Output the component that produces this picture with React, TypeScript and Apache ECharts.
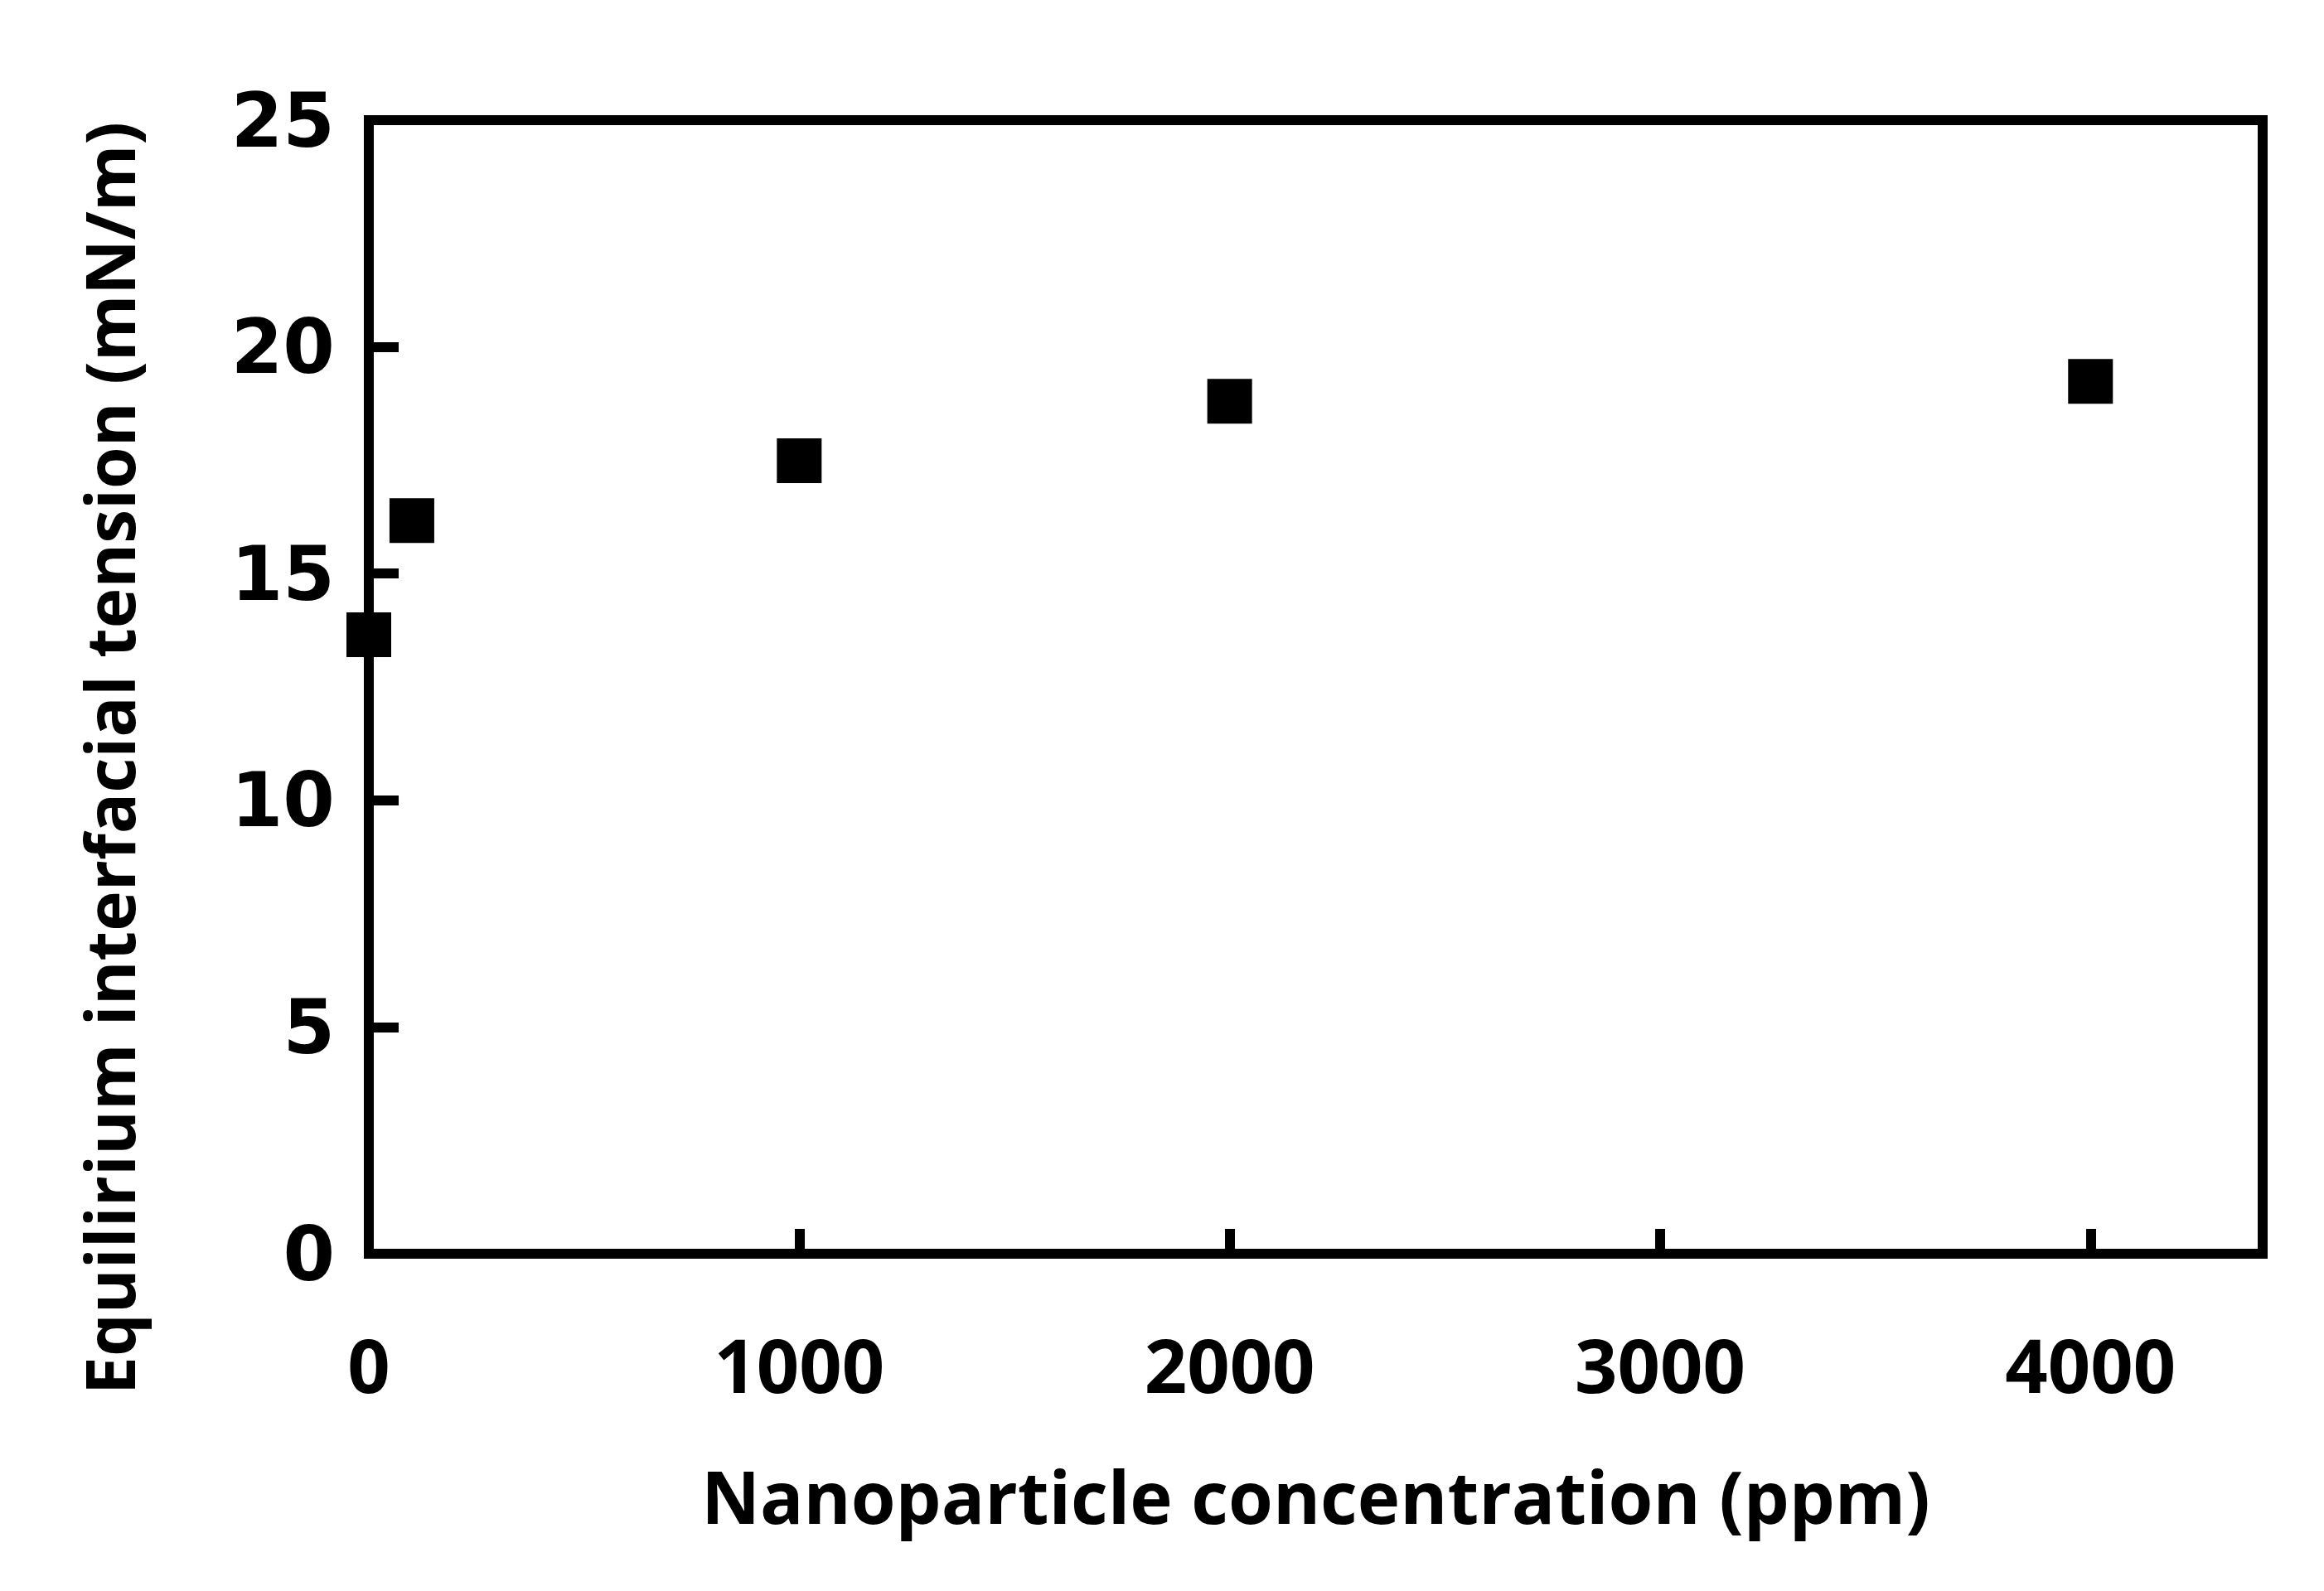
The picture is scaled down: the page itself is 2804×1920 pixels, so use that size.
import React, { useEffect, useRef } from "react";
import * as echarts from "echarts";

const concentrations = [0, 100, 1000, 2000, 4000];
const tension = [13.65, 16.17, 17.49, 18.8, 19.24];
const xAxisTitle = "Nanoparticle concentration (ppm)";
const yAxisTitle = "Equilirium interfacial tension (mN/m)";
const xRange = [0, 4400];
const yRange = [0, 25];

export default function App() {
  const ref = useRef<HTMLDivElement>(null);
  useEffect(() => {
    if (!ref.current) return;
    const chart = echarts.init(ref.current, undefined, { renderer: "svg" });
    const points = concentrations.map((c, i) => [c, tension[i]]);
    chart.setOption({
      animation: false,
      backgroundColor: "#fff",
      grid: {
        left: 445,
        right: 74,
        top: 145,
        bottom: 407,
        show: true,
        borderColor: "#000",
        borderWidth: 12,
        backgroundColor: "transparent",
      },
      xAxis: {
        type: "value",
        min: xRange[0],
        max: xRange[1],
        interval: 1000,
        name: xAxisTitle,
        nameLocation: "middle",
        nameGap: 248,
        nameTextStyle: {
          fontFamily: "Open Sans",
          fontWeight: "bold",
          fontSize: 87,
          color: "#000",
        },
        splitLine: { show: false },
        axisLine: { show: true, lineStyle: { color: "#000", width: 12 } },
        axisTick: { show: true, inside: true, length: 30, lineStyle: { color: "#000", width: 12 } },
        axisLabel: {
          showMaxLabel: false,
          margin: 88,
          formatter: (v: number) => String(v),
          fontFamily: "Open Sans",
          fontWeight: "bold",
          fontSize: 90,
          color: "#000",
        },
      },
      yAxis: {
        type: "value",
        min: yRange[0],
        max: yRange[1],
        interval: 5,
        splitLine: { show: false },
        axisLine: { show: true, lineStyle: { color: "#000", width: 12 } },
        axisTick: { show: true, inside: true, length: 36, lineStyle: { color: "#000", width: 12 } },
        axisLabel: {
          margin: 41,
          fontFamily: "DejaVu Sans",
          fontWeight: "bold",
          fontSize: 90,
          color: "#000",
        },
      },
      graphic: [
        {
          type: "text",
          x: 131,
          y: 915,
          rotation: Math.PI / 2,
          style: {
            text: yAxisTitle,
            fontFamily: "Open Sans",
            fontWeight: "bold",
            fontSize: 82,
            fill: "#000",
            align: "center",
            verticalAlign: "middle",
          },
        },
      ],
      series: [
        {
          type: "scatter",
          data: points,
          symbol: "rect",
          symbolSize: 54,
          itemStyle: { color: "#000", opacity: 1 },
        },
      ],
    });
    return () => chart.dispose();
  }, []);
  return (
    <div
      ref={ref}
      style={{ position: "fixed", left: 0, top: 0, width: 2804, height: 1920, background: "#fff" }}
    />
  );
}
